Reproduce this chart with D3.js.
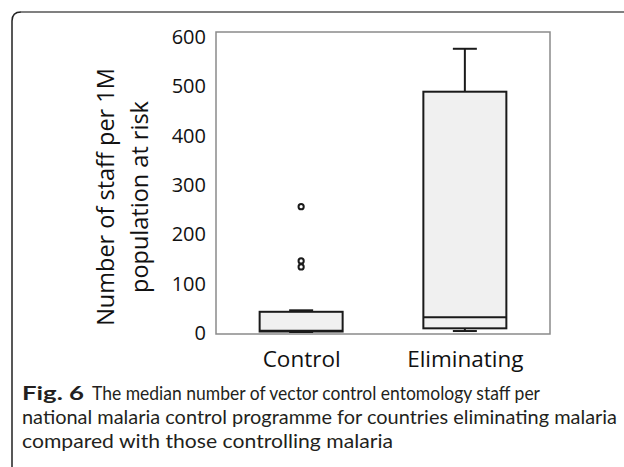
<!DOCTYPE html>
<html><head><meta charset="utf-8">
<script src="https://cdn.jsdelivr.net/npm/d3@7"></script>
<style>body{margin:0;background:#fff;}svg{display:block;}</style>
</head><body>
<script>
const categories = ["Control", "Eliminating"];
const whiskerLow = [2, 4];
const q1 = [3, 9.5];
const median = [4.5, 32];
const q3 = [43, 489];
const whiskerHigh = [46, 576];
const outliers = [[256, 146, 134], []];
const yTicks = [0, 100, 200, 300, 400, 500, 600];
const yTitle = ["Number of staff per 1M", "population at risk"];
const captionBold = "Fig. 6";
const captionLines = ["The median number of vector control entomology staff per",
  "national malaria control programme for countries eliminating malaria",
  "compared with those controlling malaria"];

const W = 624, H = 467;
const svg = d3.select("body").append("svg").attr("width", W).attr("height", H);

// outer frame
svg.append("path").attr("d", "M12,470 L12,21 Q12,12 21,12").attr("fill", "none").attr("stroke", "#222").attr("stroke-width", 1.5);
svg.append("line").attr("x1", 21).attr("x2", W).attr("y1", 12).attr("y2", 12).attr("stroke", "#808080").attr("stroke-width", 2);

const y = d3.scaleLinear().domain([-2, 610]).range([334, 32]);
const x = d3.scalePoint().domain(categories).range([216, 550]).padding(0.52);

// plot frame
svg.append("rect").attr("x", 216).attr("y", y(610)).attr("width", 334).attr("height", y(-2) - y(610))
  .attr("fill", "none").attr("stroke", "#8a8a8a").attr("stroke-width", 1.5);

// y axis labels
const yAxis = d3.axisLeft(y).tickValues(yTicks).tickSize(0).tickPadding(10);
const ga = svg.append("g").attr("transform", "translate(216,0)").call(yAxis);
ga.select(".domain").remove();
ga.selectAll("text").attr("font-family", "Open Sans").attr("font-size", 20).attr("fill", "#111");

// y title
yTitle.forEach((t, i) => {
  svg.append("text").attr("transform", `translate(${114 + i * 34},197) rotate(-90)`)
    .attr("text-anchor", "middle").attr("font-family", "Open Sans").attr("font-size", 23.5).attr("fill", "#111").text(t);
});

// x labels
const xAxis = d3.axisBottom(x).tickSize(0).tickPadding(0);
const gx = svg.append("g").attr("transform", "translate(0,351)").call(xAxis);
gx.select(".domain").remove();
gx.selectAll("text").attr("font-family", "Open Sans").attr("font-size", 22.5).attr("fill", "#111").attr("dy", "0.71em");

const boxW = 83, capW = 24;
categories.forEach((c, i) => {
  const cx = x(c);
  const g = svg.append("g").attr("stroke", "#1a1a1a").attr("stroke-width", 2);
  g.append("line").attr("x1", cx).attr("x2", cx).attr("y1", y(q3[i])).attr("y2", y(whiskerHigh[i]));
  g.append("line").attr("x1", cx).attr("x2", cx).attr("y1", y(q1[i])).attr("y2", y(whiskerLow[i]));
  g.append("line").attr("x1", cx - capW / 2).attr("x2", cx + capW / 2).attr("y1", y(whiskerHigh[i])).attr("y2", y(whiskerHigh[i]));
  g.append("line").attr("x1", cx - capW / 2).attr("x2", cx + capW / 2).attr("y1", y(whiskerLow[i])).attr("y2", y(whiskerLow[i]));
  g.append("rect").attr("x", cx - boxW / 2).attr("y", y(q3[i])).attr("width", boxW).attr("height", y(q1[i]) - y(q3[i]))
    .attr("fill", "#f0f0f0");
  g.append("line").attr("x1", cx - boxW / 2).attr("x2", cx + boxW / 2).attr("y1", y(median[i])).attr("y2", y(median[i]));
  outliers[i].forEach(v => {
    g.append("circle").attr("cx", cx).attr("cy", y(v)).attr("r", 2.6).attr("fill", "#fff");
  });
});

// caption
const capStyle = sel => sel.attr("font-family", "Lato").attr("font-size", 19).attr("fill", "#231f20").attr("lengthAdjust", "spacingAndGlyphs");
svg.append("text").call(capStyle).attr("x", 22).attr("y", 400).attr("font-weight", "bold").attr("textLength", 62).text(captionBold);
const capX = [92, 22, 22], capY = [400, 424, 448], capLen = [448, 595, 371];
captionLines.forEach((t, i) => {
  svg.append("text").call(capStyle).attr("x", capX[i]).attr("y", capY[i]).attr("textLength", capLen[i]).text(t);
});
</script>
</body></html>
